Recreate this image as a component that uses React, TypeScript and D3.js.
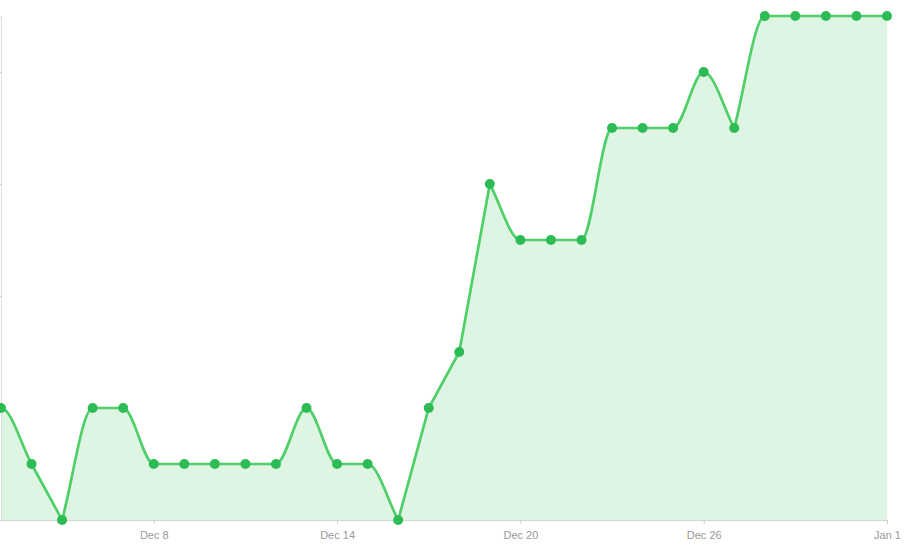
import { useEffect, useRef } from "react";
import * as d3 from "d3";

const startDate = new Date(2018, 11, 3);
const values: number[] = [
  2, 1, 0, 2, 2, 1, 1, 1, 1, 1, 2, 1, 1, 0, 2, 3, 6, 5, 5, 5, 7, 7, 7, 8, 7, 9, 9, 9, 9, 9,
];
const tickDates: Date[] = [
  new Date(2018, 11, 8),
  new Date(2018, 11, 14),
  new Date(2018, 11, 20),
  new Date(2018, 11, 26),
  new Date(2019, 0, 1),
];
const yTicks: number[] = [0, 2, 4, 6, 8];

// cubic segments: each end follows the segment's slope, but eases flat
// next to a level stretch, at a symmetric peak/dip, or at the series ends
function smoothPath(pts: [number, number][], baseline?: number) {
  const n = pts.length;
  const flatAt = (i: number, other: number) => {
    if (other < 0 || other > n - 1) return true;
    const yi = pts[i][1];
    const yo = pts[other][1];
    if (yo === yi) return true;
    // both neighbours level with each other -> rounded extremum
    const side = other < i ? i + 1 : i - 1;
    return side >= 0 && side < n && pts[side][1] === yo;
  };
  const p = d3.path();
  p.moveTo(pts[0][0], pts[0][1]);
  for (let i = 0; i < n - 1; i++) {
    const [x0, y0] = pts[i];
    const [x1, y1] = pts[i + 1];
    const s = (y1 - y0) / (x1 - x0);
    const m0 = flatAt(i, i - 1) ? 0 : s;
    const m1 = flatAt(i + 1, i + 2) ? 0 : s;
    const dx = (x1 - x0) / 3;
    p.bezierCurveTo(x0 + dx, y0 + m0 * dx, x1 - dx, y1 - m1 * dx, x1, y1);
  }
  if (baseline !== undefined) {
    p.lineTo(pts[n - 1][0], baseline);
    p.lineTo(pts[0][0], baseline);
    p.closePath();
  }
  return p.toString();
}

function App() {
  const svgRef = useRef<SVGSVGElement>(null);

  useEffect(() => {
    if (!svgRef.current) return;
    const svg = d3.select(svgRef.current);
    svg.selectAll("*").remove();

    const width = 922;
    const height = 550;
    svg.attr("width", width).attr("height", height);

    const data = values.map((v, i) => ({ date: d3.timeDay.offset(startDate, i), value: v }));

    const x = d3
      .scaleTime()
      .domain([data[0].date, data[data.length - 1].date])
      .range([1, 887]);
    const y = d3.scaleLinear().domain([0, 9]).range([520, 16]);

    const pts: [number, number][] = data.map((d) => [x(d.date), y(d.value)]);

    // area fill
    svg.append("path").attr("d", smoothPath(pts, y(0))).attr("fill", "#dff5e4");

    // x axis
    const gx = svg
      .append("g")
      .attr("transform", `translate(0,${y(0)})`)
      .call(
        d3
          .axisBottom(x)
          .tickValues(tickDates)
          .tickSize(4)
          .tickSizeOuter(0)
          .tickFormat((d) => d3.timeFormat("%b %-d")(d as Date))
      );
    gx.select(".domain").attr("stroke", "#cfd8d0");
    gx.selectAll(".tick line").attr("stroke", "#ccc");
    gx.selectAll(".tick text")
      .attr("fill", "#999")
      .attr("font-size", 11)
      .attr("font-family", "Arial, 'Liberation Sans', sans-serif")
      .attr("dy", "1.05em");

    // y axis: labels sit outside the visible area, only line and ticks show
    const gy = svg
      .append("g")
      .attr("transform", `translate(1,0)`)
      .call(d3.axisLeft(y).tickValues(yTicks).tickSize(2).tickSizeOuter(2).tickFormat(() => ""));
    gy.select(".domain").attr("stroke", "#ddd");
    gy.selectAll(".tick line").attr("stroke", "#ccc");

    // line
    svg
      .append("path")
      .attr("d", smoothPath(pts))
      .attr("fill", "none")
      .attr("stroke", "#4fcf68")
      .attr("stroke-width", 2.7);

    // points
    svg
      .selectAll(".pt")
      .data(data)
      .join("circle")
      .attr("class", "pt")
      .attr("cx", (d) => x(d.date))
      .attr("cy", (d) => y(d.value))
      .attr("r", 5)
      .attr("fill", "#2dbb55");
  }, []);

  return (
    <svg
      ref={svgRef}
      style={{ position: "absolute", left: 0, top: 0, display: "block" }}
    ></svg>
  );
}

export default App;
